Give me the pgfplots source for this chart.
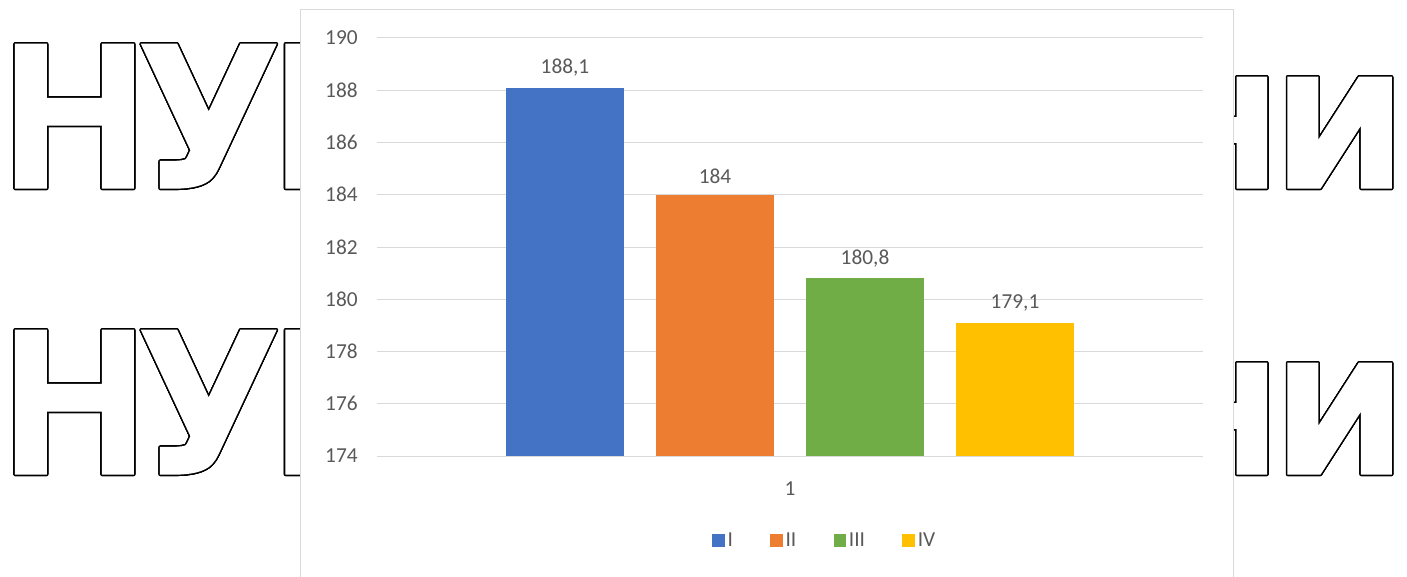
\documentclass[border=0pt]{standalone}
\usepackage{pgfplots}
\pgfplotsset{compat=1.18}
\usepackage{graphicx}
\usepackage{fontspec}
\setmainfont{Carlito}
\newfontfamily\wmfont{DejaVu Sans}[FakeBold=7]

\definecolor{barI}{HTML}{4472C4}
\definecolor{barII}{HTML}{ED7D31}
\definecolor{barIII}{HTML}{70AD47}
\definecolor{barIV}{HTML}{FFC000}
\definecolor{txtgray}{HTML}{595959}
\definecolor{gridgray}{HTML}{D9D9D9}

% big outlined lettering: black copies around the glyph, white glyph on top
% #1 position, #2 anchor, #3 horizontal stretch, #4 letters
\newcommand{\outlined}[4]{%
  \foreach \a in {0,15,...,345}{%
    \node[anchor=#2, inner sep=0pt, text=black, shift={(\a:1.1pt)}]
      at (#1) {\scalebox{#3}[1]{\wmfont\fontsize{136}{136}\selectfont #4}};
  }%
  \node[anchor=#2, inner sep=0pt, text=white]
    at (#1) {\scalebox{#3}[1]{\wmfont\fontsize{136}{136}\selectfont #4}};
}

\begin{document}
\begin{tikzpicture}
\useasboundingbox (0pt,0pt) rectangle (1055.25pt,-432.75pt);
\fill[white] (0pt,0pt) rectangle (1055.25pt,-432.75pt);

% lettering, two rows
\foreach \yb in {-136.7pt,-351.2pt}{
  \outlined{1.9pt,\yb}{base west}{1.05}{Н}
  \outlined{110.8pt,\yb}{base west}{1.1}{У}
  \outlined{204.75pt,\yb}{base west}{1.05}{Н}
  \outlined{958.5pt,\yb}{base east}{1.05}{н}
  \outlined{1052.25pt,\yb}{base east}{1.07}{и}
}

% chart panel
\fill[white] (225pt,-7.5pt) rectangle (924.75pt,-440pt);
\draw[gridgray, line width=0.75pt] (225pt,-440pt) -- (225pt,-7.5pt) -- (924.75pt,-7.5pt) -- (924.75pt,-440pt);

\begin{axis}[
  at={(282.75pt,-342pt)}, anchor=south west,
  width=619.5pt, height=313.5pt, scale only axis,
  ymin=174, ymax=190, ytick={174,176,...,190},
  xmin=0.5, xmax=1.5, xtick={1}, xticklabels={1},
  ybar=24pt, bar width=88.5pt,
  axis line style={draw=none},
  major tick length=0pt,
  ymajorgrids, grid style={gridgray, line width=0.75pt},
  /pgf/number format/assume math mode=true,
  tick label style={font=\fontsize{16}{18}\selectfont, text=txtgray},
  yticklabel style={xshift=-11pt},
  xticklabel style={yshift=-16pt},
  nodes near coords,
  nodes near coords style={font=\fontsize{16}{18}\selectfont, text=txtgray, yshift=5pt,
    /pgf/number format/.cd, fixed, precision=1, use comma, assume math mode=true},
  legend columns=4,
  legend style={draw=none, fill=none, at={(0.5424,-0.2033)}, anchor=center,
    font=\fontsize{16}{18}\selectfont, text=txtgray,
    /tikz/every even column/.append style={column sep=26pt}},
  legend image code/.code={\fill[#1] (0pt,-4.5pt) rectangle (9.5pt,5pt);},
]
\addplot[fill=barI, draw=none] coordinates {(1,188.1)};
\addplot[fill=barII, draw=none] coordinates {(1,184)};
\addplot[fill=barIII, draw=none] coordinates {(1,180.8)};
\addplot[fill=barIV, draw=none] coordinates {(1,179.1)};
\legend{I,II,III,IV}
\end{axis}
\end{tikzpicture}
\end{document}
